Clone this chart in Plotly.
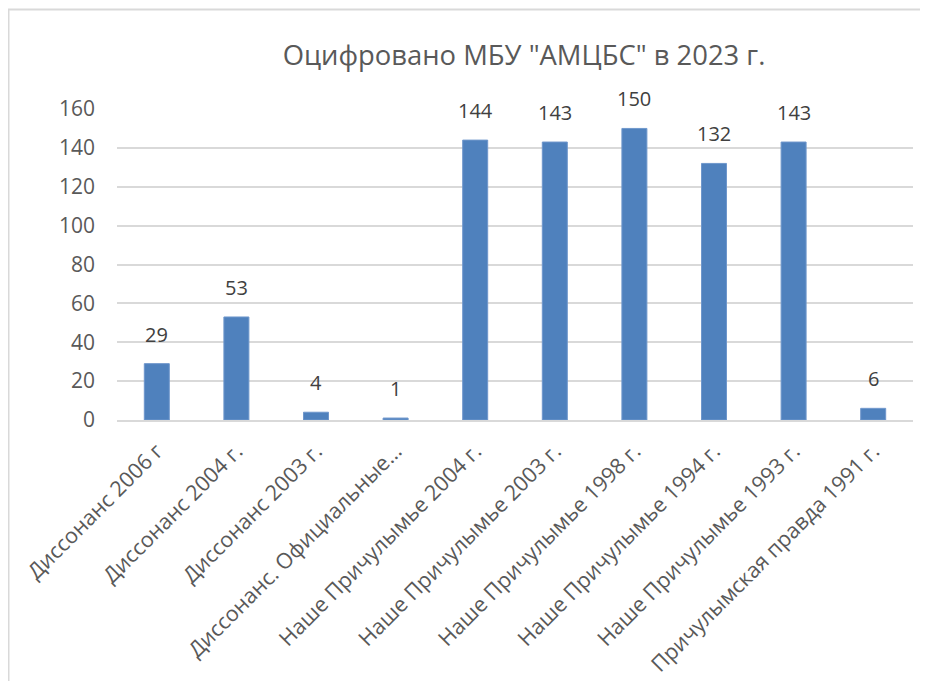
import plotly.graph_objects as go

categories = [
    "Диссонанс 2006 г",
    "Диссонанс 2004 г.",
    "Диссонанс 2003 г.",
    "Диссонанс. Официальные…",
    "Наше Причулымье 2004 г.",
    "Наше Причулымье 2003 г.",
    "Наше Причулымье 1998 г.",
    "Наше Причулымье 1994 г.",
    "Наше Причулымье 1993 г.",
    "Причулымская правда 1991 г.",
]
values = [29, 53, 4, 1, 144, 143, 150, 132, 143, 6]
y_ticks = [0, 20, 40, 60, 80, 100, 120, 140, 160]
title_text = 'Оцифровано МБУ "АМЦБС" в 2023 г.'

FONT = "Open Sans"
TXT = "#595959"

# page has an 8px body margin; figure sits at (8, 8)
OFF = 8
W, H = 928 - OFF, 681 - OFF
L = 117 - OFF
T = 109 - OFF
R = 928 - 913
B = 681 - 420
pw, ph = W - L - R, H - T - B

def px_x(p):
    return (p - OFF - L) / pw

def px_y(p):
    return (H - B - (p - OFF)) / ph

fig = go.Figure()
fig.add_trace(go.Bar(
    x=categories,
    y=values,
    marker=dict(color="#4F81BD", line=dict(color="#6f97cc", width=1)),
    hoverinfo="x+y",
))

for c, v in zip(categories, values):
    fig.add_annotation(
        x=c, y=v, text=str(v), showarrow=False,
        xref="x", yref="y", yanchor="bottom", yshift=14,
        font=dict(family=FONT, size=20, color="#404040"),
    )

# chart border (light gray frame, top and left edges visible)
fig.add_shape(type="line", xref="paper", yref="paper",
              x0=px_x(8), x1=px_x(940), y0=px_y(9.5), y1=px_y(9.5),
              line=dict(color="#d9d9d9", width=2))
fig.add_shape(type="line", xref="paper", yref="paper",
              x0=px_x(8.5), x1=px_x(8.5), y0=px_y(9.5), y1=px_y(700),
              line=dict(color="#d9d9d9", width=2))

fig.update_layout(
    width=W, height=H,
    margin=dict(l=L, r=R, t=T, b=B, autoexpand=False),
    paper_bgcolor="white",
    plot_bgcolor="white",
    showlegend=False,
    bargap=0.686,
    font=dict(family=FONT, color=TXT),
    title=dict(
        text=title_text,
        x=(524 - OFF) / W, xanchor="center",
        y=1 - (55 - OFF) / H, yanchor="middle",
        font=dict(family=FONT, size=27.4, color=TXT),
    ),
    xaxis=dict(
        tickangle=-45,
        tickfont=dict(family=FONT, size=21.5, color=TXT),
        showline=True, linecolor="#d9d9d9", linewidth=2,
        showgrid=False, ticks="",
        ticklabelstandoff=8,
    ),
    yaxis=dict(
        range=[0, 160],
        tickvals=y_ticks,
        tickfont=dict(family=FONT, size=21, color=TXT),
        showgrid=True, gridcolor="#d9d9d9", gridwidth=1.5,
        zeroline=False, showline=False, ticks="",
        ticklabelstandoff=21,
    ),
)

fig.write_html("out.html")
